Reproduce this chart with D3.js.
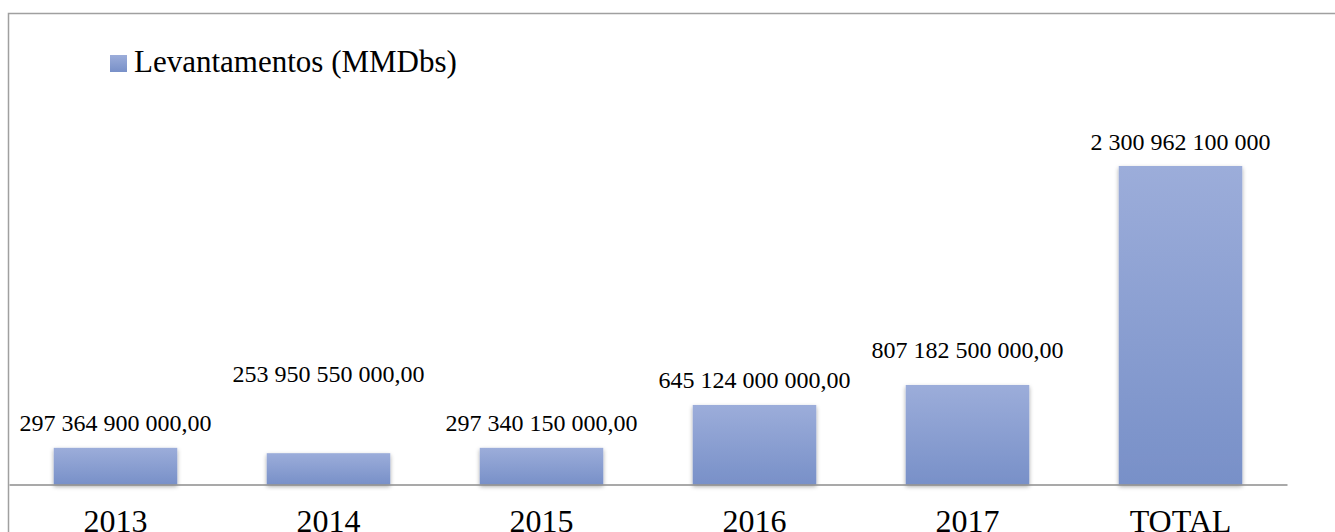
<!DOCTYPE html>
<html>
<head>
<meta charset="utf-8">
<script src="https://cdn.jsdelivr.net/npm/d3@7"></script>
<style>
  body { margin: 0; background: #fff; }
  svg text { font-family: 'Liberation Serif', 'DejaVu Serif', serif; }
</style>
</head>
<body>
<svg id="chart"></svg>
<script>
// data
var categories = ["2013", "2014", "2015", "2016", "2017", "TOTAL"];
// bar heights (Bs); the TOTAL bar is drawn taller than its label says
var values = [297364900000, 253950550000, 297340150000, 645124000000, 807182500000, 2583000000000];
var valueLabels = ["297 364 900 000,00", "253 950 550 000,00", "297 340 150 000,00",
                   "645 124 000 000,00", "807 182 500 000,00", "2 300 962 100 000"];
var seriesName = "Levantamentos (MMDbs)";

window.onload = function(){
    var W = 1335, H = 532;
    var FONT = "'Liberation Serif', 'DejaVu Serif', serif";
    var svg = d3.select("#chart").attr("width", W).attr("height", H);

    var defs = svg.append("defs");
    var grad = defs.append("linearGradient").attr("id", "barGrad")
        .attr("x1", 0).attr("y1", 0).attr("x2", 0).attr("y2", 1);
    grad.append("stop").attr("offset", "0%").attr("stop-color", "#9cadda");
    grad.append("stop").attr("offset", "100%").attr("stop-color", "#7890c8");
    var f = defs.append("filter").attr("id", "shadow")
        .attr("x", "-20%").attr("y", "-20%").attr("width", "140%").attr("height", "140%");
    f.append("feDropShadow").attr("dx", 0).attr("dy", 2).attr("stdDeviation", 2)
        .attr("flood-color", "#000").attr("flood-opacity", 0.35);

    // chart frame (runs off the right and bottom of the picture)
    svg.append("rect")
        .attr("x", 8.5).attr("y", 13.5)
        .attr("width", W + 20).attr("height", H + 20)
        .attr("fill", "none").attr("stroke", "#a0a0a0").attr("stroke-width", 1.5);

    var baseY = 484.5;
    var x = d3.scaleBand().domain(categories).range([9, 1287]).paddingInner(0.42).paddingOuter(0.21);
    var y = d3.scaleLinear().domain([0, 3000e9]).range([baseY, baseY - 3000 / 8.11]);

    svg.selectAll("rect.bar")
        .data(values).enter()
        .append("rect")
        .attr("class", "bar")
        .attr("x", function(d, i){ return x(categories[i]); })
        .attr("y", function(d){ return y(d); })
        .attr("width", x.bandwidth())
        .attr("height", function(d){ return baseY - y(d); })
        .attr("fill", "url(#barGrad)")
        .attr("filter", "url(#shadow)");

    // axis line + category labels
    var axis = svg.append("g")
        .attr("transform", "translate(0," + baseY + ")")
        .call(d3.axisBottom(x).tickSize(0).tickSizeOuter(0));
    axis.attr("font-family", FONT);
    axis.select(".domain").attr("stroke", "#8c8c8c").attr("stroke-width", 1.5);
    axis.selectAll("text")
        .attr("y", 47).attr("dy", 0)
        .attr("font-family", FONT)
        .attr("font-size", 32).attr("fill", "#000");

    // value labels; a few were moved by hand in the original
    var labelLift = [16.5, 71, 16.5, 17, 27, 16];
    svg.selectAll("text.val")
        .data(valueLabels).enter()
        .append("text")
        .attr("class", "val")
        .attr("x", function(d, i){ return x(categories[i]) + x.bandwidth() / 2; })
        .attr("y", function(d, i){ return y(values[i]) - labelLift[i]; })
        .attr("text-anchor", "middle")
        .attr("font-family", FONT)
        .attr("font-size", 24)
        .attr("fill", "#000")
        .text(function(d){ return d; });

    // legend
    svg.append("rect")
        .attr("x", 110).attr("y", 55).attr("width", 17).attr("height", 17)
        .attr("fill", "url(#barGrad)");
    svg.append("text")
        .attr("x", 134).attr("y", 71.5)
        .attr("font-family", FONT)
        .attr("font-size", 31).attr("fill", "#000")
        .text(seriesName);
}
</script>
</body>
</html>
